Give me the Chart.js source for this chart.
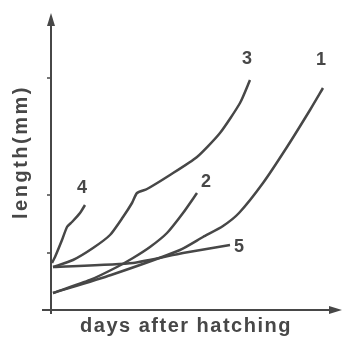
<!DOCTYPE html>
<html>
<head>
<meta charset="utf-8">
<script src="https://cdn.jsdelivr.net/npm/chart.js@4/dist/chart.umd.min.js"></script>
<style>
  html, body { margin: 0; padding: 0; background: #fff; }
  #wrap { width: 347px; height: 340px; }
</style>
</head>
<body>
<div id="wrap"><canvas id="growth"></canvas></div>
<script>
// curve values (days, length), arbitrary units
const c1Days = [2, 60, 129, 152, 172, 188, 212, 236, 259, 272];
const c1Len  = [17, 35, 60, 73, 84, 97, 127, 163, 200, 222];
const c2Days = [2, 39, 66, 82, 99, 116, 132, 146];
const c2Len  = [17, 30, 43, 52, 63, 77, 97, 117];
const c3Days = [2, 22, 42, 59, 72, 81, 86, 96, 119, 146, 169, 189, 199];
const c3Len  = [43, 50, 62, 75, 93, 107, 117, 121, 135, 153, 177, 207, 230];
const c4Days = [1, 4, 11, 16, 21, 29, 34];
const c4Len  = [47, 53, 70, 83, 88, 97, 105];
const c5Days = [2, 82, 132, 179];
const c5Len  = [43, 47, 57, 65];
const curveNames = ['1', '2', '3', '4', '5'];
const yTicks = [57, 115, 232];

const ink = '#474747';

function pts(xs, ys) {
  return xs.map((x, i) => ({ x: x, y: ys[i] }));
}

// label offsets from the end of each curve (px)
const labelOffset = { '1': [-2, -28], '2': [9, -11], '3': [-3, -21], '4': [-3, -17], '5': [9, 2] };

const axesPlugin = {
  id: 'axesPlugin',
  afterDraw(chart) {
    const ctx = chart.ctx;
    const xs = chart.scales.x, ys = chart.scales.y;
    const x0 = xs.getPixelForValue(0), y0 = ys.getPixelForValue(0);
    ctx.save();
    ctx.strokeStyle = ink;
    ctx.fillStyle = ink;
    ctx.lineWidth = 2;
    // y axis
    ctx.beginPath();
    ctx.moveTo(x0, ys.getPixelForValue(-4));
    ctx.lineTo(x0, ys.getPixelForValue(290));
    ctx.stroke();
    ctx.beginPath();
    ctx.moveTo(x0, ys.getPixelForValue(297));
    ctx.lineTo(x0 - 4, ys.getPixelForValue(284));
    ctx.lineTo(x0 + 4, ys.getPixelForValue(284));
    ctx.closePath();
    ctx.fill();
    // x axis
    ctx.beginPath();
    ctx.moveTo(xs.getPixelForValue(-9), y0);
    ctx.lineTo(xs.getPixelForValue(284), y0);
    ctx.stroke();
    ctx.beginPath();
    ctx.moveTo(xs.getPixelForValue(291), y0);
    ctx.lineTo(xs.getPixelForValue(278), y0 - 4);
    ctx.lineTo(xs.getPixelForValue(278), y0 + 4);
    ctx.closePath();
    ctx.fill();
    // small tick marks
    ctx.lineWidth = 1.5;
    yTicks.forEach(t => {
      const py = ys.getPixelForValue(t);
      ctx.beginPath();
      ctx.moveTo(x0 - 4, py);
      ctx.lineTo(x0, py);
      ctx.stroke();
    });
    // curve numbers
    ctx.font = 'bold 18px "Liberation Sans", Arial, sans-serif';
    ctx.textAlign = 'center';
    ctx.textBaseline = 'middle';
    chart.data.datasets.forEach(ds => {
      const last = ds.data[ds.data.length - 1];
      const off = labelOffset[ds.label];
      ctx.fillText(ds.label, xs.getPixelForValue(last.x) + off[0], ys.getPixelForValue(last.y) + off[1]);
    });
    // axis titles
    ctx.font = 'bold 20px "Liberation Sans", Arial, sans-serif';
    ctx.letterSpacing = '1.5px';
    ctx.fillText('days after hatching', 186, 326);
    ctx.letterSpacing = '2.5px';
    ctx.translate(21, 152);
    ctx.rotate(-Math.PI / 2);
    ctx.fillText('length(mm)', 0, 0);
    ctx.restore();
  }
};

const series = [
  pts(c1Days, c1Len), pts(c2Days, c2Len), pts(c3Days, c3Len),
  pts(c4Days, c4Len), pts(c5Days, c5Len)
];

new Chart(document.getElementById('growth'), {
  type: 'scatter',
  data: {
    datasets: series.map((d, i) => ({
      label: curveNames[i],
      data: d,
      showLine: true,
      borderColor: ink,
      borderWidth: 2.5,
      pointRadius: 0,
      tension: 0.2,
      fill: false
    }))
  },
  options: {
    responsive: true,
    maintainAspectRatio: false,
    animation: false,
    layout: { padding: { left: 42, right: 4, top: 12, bottom: 20 } },
    plugins: { legend: { display: false }, tooltip: { enabled: false } },
    scales: {
      x: { type: 'linear', min: -9, max: 292, display: false },
      y: { type: 'linear', min: -10, max: 298, display: false }
    }
  },
  plugins: [axesPlugin]
});
</script>
</body>
</html>
